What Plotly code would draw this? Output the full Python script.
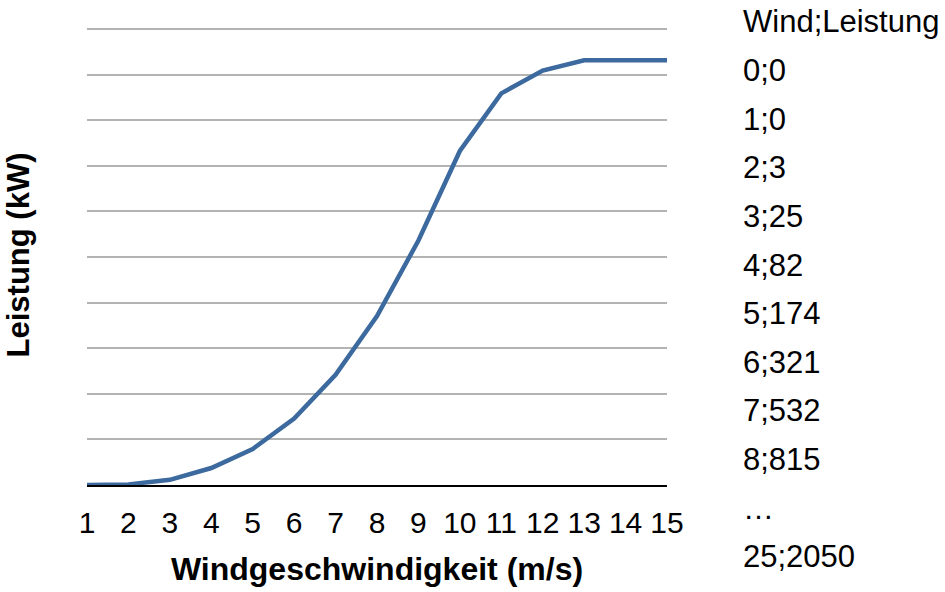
import plotly.graph_objects as go

# Power curve: wind speed (m/s) vs. power output (kW)
wind_speed = [1, 2, 3, 4, 5, 6, 7, 8, 9, 10, 11, 12, 13, 14, 15]
power_kw = [0, 3, 25, 82, 174, 321, 532, 815, 1180, 1612, 1890, 2000, 2050, 2050, 2050]

# Raw data listing shown beside the chart
table_lines = ["Wind;Leistung", "0;0", "1;0", "2;3", "3;25", "4;82", "5;174",
               "6;321", "7;532", "8;815", "…", "25;2050"]

FONT = "Liberation Sans, Arial, Helvetica, sans-serif"
W, H = 945, 592
L, R, T, B = 87, 278, 25, 107
plot_w, plot_h = W - L - R, H - T - B

fig = go.Figure()
fig.add_trace(go.Scatter(
    x=wind_speed, y=power_kw, mode="lines",
    line=dict(color="#3c699e", width=4.5),
    showlegend=False, hoverinfo="x+y",
))

# listing text, one line every ~48.6 px starting near the top
annotations = []
for i, txt in enumerate(table_lines):
    yc = 22 + i * 48.6 if i < 11 else 556
    annotations.append(dict(
        text=txt, xref="paper", yref="paper",
        x=(741 - L) / plot_w, y=(H - B - yc) / plot_h,
        xanchor="left", yanchor="middle", showarrow=False,
        font=dict(family=FONT, size=31, color="#000000"),
    ))

fig.update_layout(
    width=W, height=H,
    margin=dict(l=L, r=R, t=T, b=B, pad=0),
    paper_bgcolor="white", plot_bgcolor="white",
    annotations=annotations,
    xaxis=dict(
        range=[1, 15], tickmode="array", tickvals=wind_speed,
        ticktext=[str(v) for v in wind_speed],
        showgrid=False, zeroline=False,
        showline=True, linecolor="#000000", linewidth=2,
        ticks="", ticklabelstandoff=10,
        tickfont=dict(family=FONT, size=30, color="#000000"),
        title=dict(text="<b>Windgeschwindigkeit (m/s)</b>", standoff=20,
                   font=dict(family=FONT, size=32, color="#000000")),
    ),
    yaxis=dict(
        range=[0, 2220], dtick=220, tick0=0,
        showticklabels=False, ticks="",
        showgrid=True, gridcolor="#b3b3b3", gridwidth=2,
        zeroline=False, showline=False,
        title=dict(text="<b>Leistung (kW)</b>", standoff=47,
                   font=dict(family=FONT, size=31, color="#000000")),
    ),
)

fig.write_html("out.html")
